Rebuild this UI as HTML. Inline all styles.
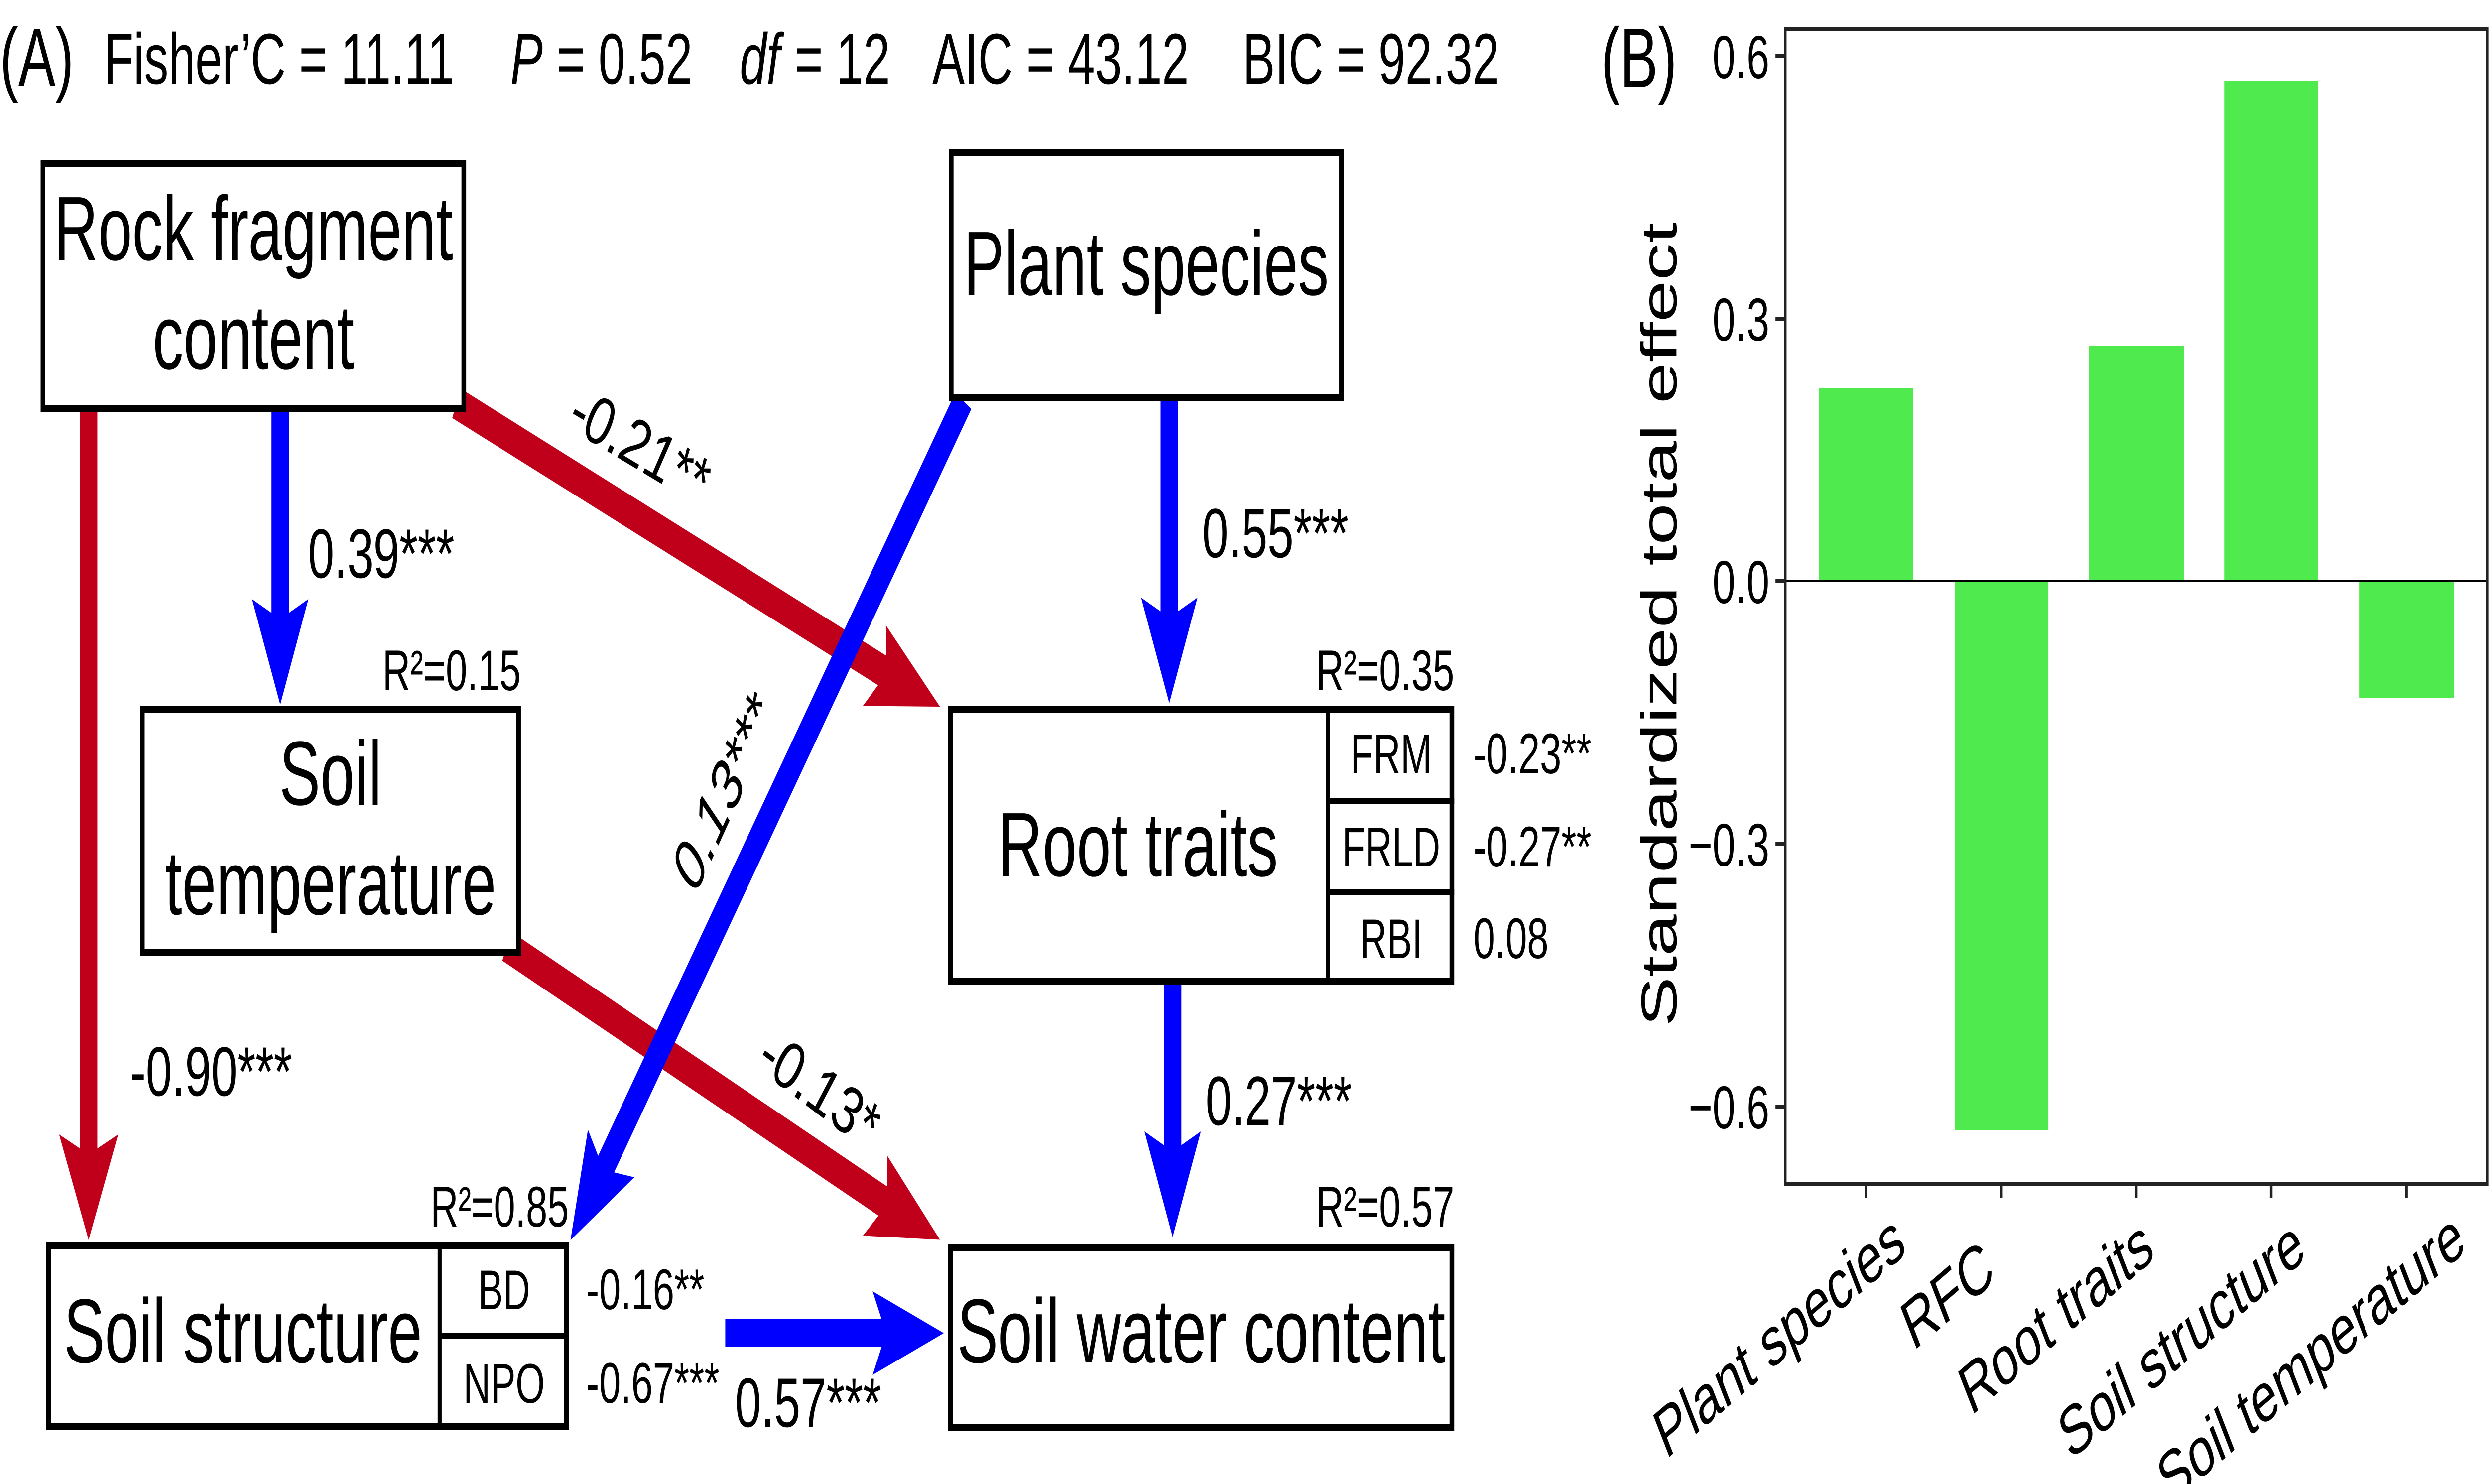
<!DOCTYPE html>
<html><head><meta charset="utf-8"><style>
html,body{margin:0;padding:0;background:#fff;overflow:hidden;width:100%;height:100%;}
svg{display:block;width:100vw;height:100vh;}
text{font-family:"Liberation Sans",Arial,sans-serif;fill:#000;}
</style></head><body>
<svg xmlns="http://www.w3.org/2000/svg" viewBox="0 0 7419 2980" preserveAspectRatio="none">
<defs>
<marker id="hr" markerUnits="userSpaceOnUse" viewBox="-230 -110 240 220" markerWidth="240" markerHeight="220" refX="-172" refY="0" orient="auto">
<path d="M0,0 L-212,-88 L-172,0 L-212,88 Z" fill="#c0001a"/></marker>
<marker id="hb" markerUnits="userSpaceOnUse" viewBox="-230 -110 240 220" markerWidth="240" markerHeight="220" refX="-172" refY="0" orient="auto">
<path d="M0,0 L-212,-84 L-172,0 L-212,84 Z" fill="#0000ff"/></marker>
</defs>

<!-- Title -->
<text x="0" y="172" font-size="165">(A)</text>
<text x="310" y="168" font-size="144">Fisher’C = 11.11</text>
<text x="1521" y="168" font-size="144" font-style="italic">P</text>
<text x="1659" y="168" font-size="144">= 0.52</text>
<text x="2204" y="168" font-size="144" font-style="italic">df</text>
<text x="2368" y="168" font-size="144">= 12</text>
<text x="2778" y="168" font-size="144">AIC = 43.12</text>
<text x="3703" y="168" font-size="144">BIC = 92.32</text>

<!-- Arrows -->
<line x1="264" y1="828" x2="264" y2="2318" stroke="#c0001a" stroke-width="52" marker-end="url(#hr)"/>
<line x1="835" y1="828" x2="835" y2="1243" stroke="#0000ff" stroke-width="52" marker-end="url(#hb)"/>
<line x1="1360" y1="810" x2="2642" y2="1352" stroke="#c0001a" stroke-width="64" marker-end="url(#hr)"/>
<line x1="1510" y1="1900" x2="2644" y2="2418" stroke="#c0001a" stroke-width="64" marker-end="url(#hr)"/>
<line x1="2870" y1="805" x2="1798" y2="2349" stroke="#0000ff" stroke-width="58" marker-end="url(#hb)"/>
<line x1="3484" y1="806" x2="3484" y2="1240" stroke="#0000ff" stroke-width="52" marker-end="url(#hb)"/>
<line x1="3494" y1="1977" x2="3494" y2="2312" stroke="#0000ff" stroke-width="52" marker-end="url(#hb)"/>
<line x1="2161" y1="2677" x2="2640" y2="2677" stroke="#0000ff" stroke-width="56" marker-end="url(#hb)"/>

<!-- Boxes -->
<g fill="#fff" stroke="#000" stroke-width="14">
<rect x="128" y="329" width="1254" height="492"/>
<rect x="2834" y="306" width="1163" height="493"/>
<rect x="424" y="1425" width="1121" height="487"/>
<rect x="2832" y="1425" width="1494" height="545"/>
<rect x="145" y="2502" width="1543" height="363"/>
<rect x="2832" y="2505" width="1494" height="361"/>
</g>
<g stroke="#000" stroke-width="12">
<line x1="3957" y1="1418" x2="3957" y2="1977"/>
<line x1="3957" y1="1609" x2="4333" y2="1609"/>
<line x1="3957" y1="1791" x2="4333" y2="1791"/>
<line x1="1310" y1="2495" x2="1310" y2="2872"/>
<line x1="1310" y1="2683" x2="1695" y2="2683"/>
</g>

<!-- Box labels -->
<g font-size="183" text-anchor="middle">
<text x="755" y="522">Rock fragment</text>
<text x="755" y="740">content</text>
<text x="3415" y="592">Plant species</text>
<text x="985" y="1616">Soil</text>
<text x="985" y="1836">temperature</text>
<text x="3391" y="1759">Root traits</text>
<text x="724" y="2736">Soil structure</text>
<text x="3579" y="2736">Soil water content</text>
</g>
<g font-size="112" text-anchor="middle">
<text x="4145" y="1553">FRM</text>
<text x="4145" y="1740">FRLD</text>
<text x="4145" y="1924">RBI</text>
<text x="1502" y="2629">BD</text>
<text x="1502" y="2817">NPO</text>
</g>
<g font-size="115">
<text x="4390" y="1553">-0.23**</text>
<text x="4390" y="1740">-0.27**</text>
<text x="4390" y="1924">0.08</text>
<text x="1747" y="2629">-0.16**</text>
<text x="1747" y="2817">-0.67***</text>
</g>
<g font-size="115" text-anchor="end">
<text x="1552" y="1386">R²=0.15</text>
<text x="4333" y="1386">R²=0.35</text>
<text x="1695" y="2463">R²=0.85</text>
<text x="4333" y="2463">R²=0.57</text>
</g>

<!-- Path coefficients -->
<g font-size="140">
<text x="918" y="1160">0.39***</text>
<text x="3582" y="1119">0.55***</text>
<text x="388" y="2200">-0.90***</text>
<text x="3592" y="2259">0.27***</text>
<text x="2190" y="2865">0.57***</text>
</g>
<g font-size="140" font-style="italic" text-anchor="middle">
<text transform="translate(1905,893) rotate(22)" y="48">-0.21**</text>
<text transform="translate(2155,1590) rotate(-56)" y="48">0.13***</text>
<text transform="translate(2440,2185) rotate(27)" y="48">-0.13*</text>
</g>

<!-- Panel B -->
<text x="4770" y="175" font-size="170">(B)</text>
<g fill="#4eea4e">
<rect x="5420" y="779" width="280" height="388"/>
<rect x="5824" y="1167" width="279" height="1103"/>
<rect x="6224" y="694" width="283" height="473"/>
<rect x="6627" y="162" width="280" height="1005"/>
<rect x="7029" y="1167" width="282" height="235"/>
</g>
<line x1="5319" y1="1167" x2="7410" y2="1167" stroke="#000" stroke-width="4"/>
<rect x="5319" y="58" width="2091" height="2320" fill="none" stroke="#222" stroke-width="8"/>
<g stroke="#222" stroke-width="8">
<line x1="5290" y1="113" x2="5319" y2="113"/>
<line x1="5290" y1="640" x2="5319" y2="640"/>
<line x1="5290" y1="1167" x2="5319" y2="1167"/>
<line x1="5290" y1="1695" x2="5319" y2="1695"/>
<line x1="5290" y1="2222" x2="5319" y2="2222"/>
<line x1="5560" y1="2378" x2="5560" y2="2405"/>
<line x1="5963" y1="2378" x2="5963" y2="2405"/>
<line x1="6365" y1="2378" x2="6365" y2="2405"/>
<line x1="6767" y1="2378" x2="6767" y2="2405"/>
<line x1="7170" y1="2378" x2="7170" y2="2405"/>
</g>
<g font-size="122" text-anchor="end" fill="#000">
<text x="5272" y="157">0.6</text>
<text x="5272" y="684">0.3</text>
<text x="5272" y="1211">0.0</text>
<text x="5272" y="1739">−0.3</text>
<text x="5272" y="2266">−0.6</text>
</g>
<text transform="translate(4995,1254) rotate(-90)" font-size="150" text-anchor="middle">Standardized total effect</text>
<g font-size="140" text-anchor="end">
<text transform="translate(5685,2515) rotate(-30)">Plant species</text>
<text transform="translate(5950,2570) rotate(-30)">RFC</text>
<text transform="translate(6425,2525) rotate(-30)">Root traits</text>
<text transform="translate(6876,2525) rotate(-30)">Soil structure</text>
<text transform="translate(7353,2510) rotate(-30)">Soil temperature</text>
</g>
</svg>
</body></html>
